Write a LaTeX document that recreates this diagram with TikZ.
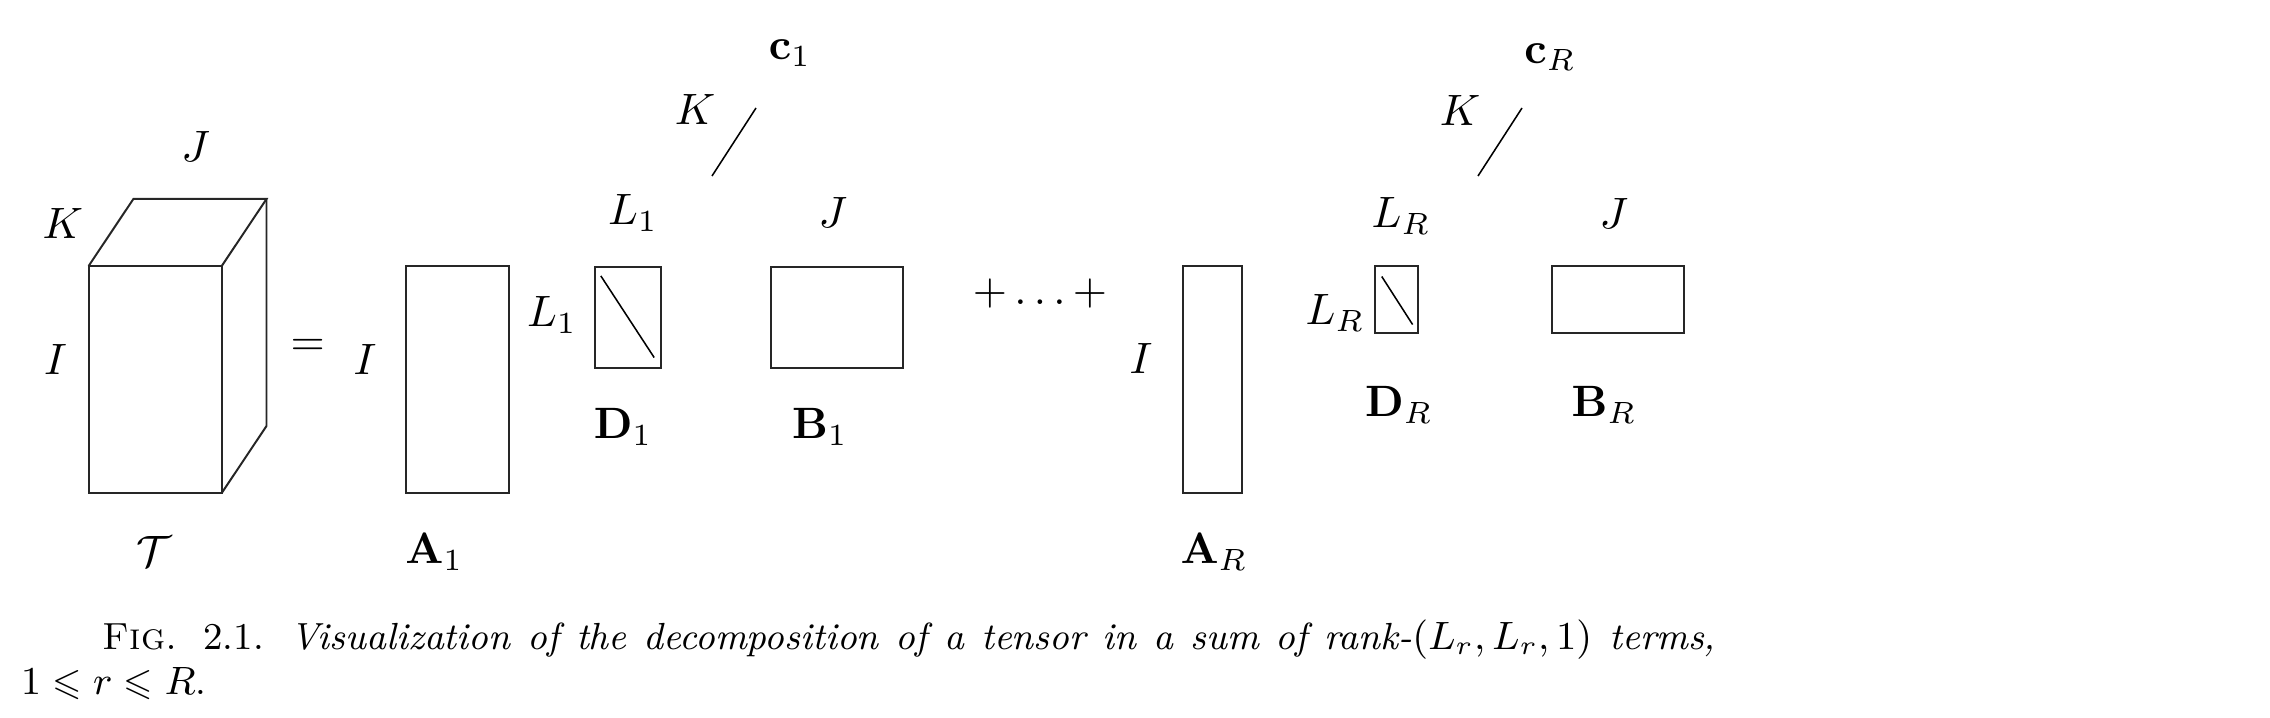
\documentclass[tikz,border=0pt]{standalone}
\usepackage{amsmath,amssymb}
\usepackage{tikz}

\begin{document}
\begin{tikzpicture}[
    mat/.style={rectangle, draw=black!85, line width=0.45pt, inner sep=0pt, outer sep=0pt},
    lbl/.style={inner sep=0pt, font=\normalsize},
    diag/.style={draw=black, line width=0.35pt},
    capline/.style={inner sep=0pt, anchor=base west, font=\fontsize{8.6}{10.5}\selectfont}
]
\useasboundingbox (0,0) rectangle (18.16,5.744);

% Tensor
\node[mat, minimum width=1.065cm, minimum height=1.816cm] (T) at (1.2415,2.708) {};
\draw[black!85, line width=0.45pt] (T.north west) -- ++(0.358,0.536) -- ++(1.065,0) -- (T.north east);
\draw[black!85, line width=0.45pt] (T.south east) -- ++(0.358,0.536) -- ++(0,1.816);
\node[lbl] (TJ) at (1.565,4.568) {$J$};
\node[lbl] (TK) at (0.502,3.952) {$K$};
\node[lbl] (TI) at (0.445,2.864) {$I$};
\node[lbl] (Tname) at (1.235,1.328) {$\mathcal{T}$};
\node[lbl] (eq) at (2.461,2.968) {$=$};

% First term
\node[mat, minimum width=0.827cm, minimum height=1.816cm] (A1) at (3.661,2.708) {};
\node[lbl] (A1I) at (2.92,2.864) {$I$};
\node[lbl] (A1name) at (3.474,1.328) {$\mathbf{A}_1$};
\node[mat, minimum width=0.528cm, minimum height=0.808cm] (D1) at (5.024,3.204) {};
\draw[diag, shorten <=0.85mm, shorten >=1mm] (D1.north west) -- (D1.south east);
\node[lbl] (D1top) at (5.064,4.04) {$L_1$};
\node[lbl] (D1left) at (4.416,3.224) {$L_1$};
\node[lbl] (D1name) at (4.984,2.328) {$\mathbf{D}_1$};
\node[mat, minimum width=1.056cm, minimum height=0.808cm] (B1) at (6.696,3.204) {};
\node[lbl] (B1J) at (6.664,4.04) {$J$};
\node[lbl] (B1name) at (6.56,2.328) {$\mathbf{B}_1$};
\coordinate (c1s) at (5.696,4.336);
\coordinate (c1e) at (6.048,4.88);
\draw[diag] (c1s) -- (c1e);
\node[lbl] (c1K) at (5.56,4.864) {$K$};
\node[lbl] (c1name) at (6.32,5.32) {$\mathbf{c}_1$};

\node[lbl] (dots) at (8.32,3.392) {$+\ldots+$};

% Last term
\node[mat, minimum width=0.472cm, minimum height=1.816cm] (AR) at (9.7,2.708) {};
\node[lbl] (ARI) at (9.128,2.872) {$I$};
\node[lbl] (ARname) at (9.712,1.328) {$\mathbf{A}_R$};
\node[mat, minimum width=0.344cm, minimum height=0.536cm] (DR) at (11.172,3.348) {};
\draw[diag, shorten <=1mm, shorten >=0.8mm] (DR.north west) -- (DR.south east);
\node[lbl] (DRtop) at (11.208,4.016) {$L_R$};
\node[lbl] (DRleft) at (10.68,3.24) {$L_R$};
\node[lbl] (DRname) at (11.192,2.504) {$\mathbf{D}_R$};
\node[mat, minimum width=1.056cm, minimum height=0.536cm] (BR) at (12.944,3.348) {};
\node[lbl] (BRJ) at (12.912,4.032) {$J$};
\node[lbl] (BRname) at (12.832,2.504) {$\mathbf{B}_R$};
\coordinate (cRs) at (11.824,4.336);
\coordinate (cRe) at (12.176,4.88);
\draw[diag] (cRs) -- (cRe);
\node[lbl] (cRK) at (11.68,4.856) {$K$};
\node[lbl] (cRname) at (12.4,5.288) {$\mathbf{c}_R$};

% Caption
\node[capline] (cap1) at (0.816,0.544) {\makebox[12.904cm][s]{\textsc{Fig.} 2.1. \textit{Visualization of the decomposition of a tensor in a sum of rank-$(L_r,L_r,1)$ terms,}}};
\node[capline] (cap2) at (0.16,0.184) {$1\leqslant r\leqslant R$.};

\end{tikzpicture}
\end{document}
